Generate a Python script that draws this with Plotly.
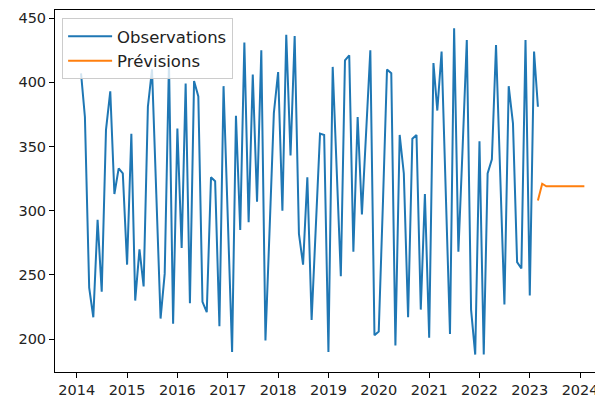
import pandas as pd
import plotly.graph_objects as go

# Observations: monthly, Feb 2014 -> Mar 2023
obs_start = "2014-02-01"
obs_values = [
    407, 373, 240, 217, 293, 237, 363, 393, 313, 333, 329, 258,
    360, 230, 270, 241, 381, 410, 313, 216, 251, 416, 212, 364,
    271, 399, 228, 401, 389, 229, 221, 326, 323, 210, 397, 293,
    190, 374, 285, 431, 291, 406, 307, 425, 199, 288, 376, 408,
    300, 437, 343, 436, 282, 258, 326, 215, 288, 360, 359, 190,
    412, 330, 249, 417, 421, 268, 373, 297, 361, 425, 203, 206,
    308, 410, 407, 195, 359, 329, 217, 356, 359, 223, 313, 201,
    415, 378, 424, 314, 204, 442, 268, 350, 433, 223, 188, 354,
    188, 329, 340, 429, 328, 227, 397, 368, 260, 255, 433, 234,
    424, 381,
]

# Forecast: monthly, Mar 2023 -> Feb 2024
fc_start = "2023-03-01"
fc_values = [308, 321, 319, 319, 319, 319, 319, 319, 319, 319, 319, 319]

year_ticks = [str(y) for y in range(2014, 2025)]
y_ticks = [200, 250, 300, 350, 400, 450]

obs_dates = pd.date_range(obs_start, periods=len(obs_values), freq="MS")
fc_dates = pd.date_range(fc_start, periods=len(fc_values), freq="MS")

fig = go.Figure()
fig.add_trace(go.Scatter(x=obs_dates, y=obs_values, mode="lines", name="Observations",
                         line=dict(color="#1f77b4", width=2)))
fig.add_trace(go.Scatter(x=fc_dates, y=fc_values, mode="lines", name="Prévisions",
                         line=dict(color="#ff7f0e", width=2)))

axis_common = dict(showline=True, linecolor="black", linewidth=1, mirror=True,
                   ticks="outside", ticklen=5, tickcolor="black", tickwidth=1,
                   showgrid=False, zeroline=False,
                   tickfont=dict(family="DejaVu Sans", size=14.5, color="#222222"))

# The page body adds an 8px offset, so the figure is 8px smaller than the window.
fig.update_layout(
    width=595, height=395,
    margin=dict(l=47, r=1, t=2, b=31, autoexpand=False),
    paper_bgcolor="white", plot_bgcolor="white",
    showlegend=True,
    legend=dict(x=0.013, y=0.978, xanchor="left", yanchor="top",
                bgcolor="rgba(255,255,255,0.8)", bordercolor="#cccccc", borderwidth=1,
                font=dict(family="DejaVu Sans", size=16.5, color="#222222"),
                itemwidth=44, tracegroupgap=0),
    xaxis=dict(range=["2013-07-27", "2024-06-08"],
               tickvals=[f"{y}-01-01" for y in year_ticks], ticktext=year_ticks,
               **axis_common),
    yaxis=dict(range=[174.4, 456.3], tickvals=y_ticks,
               ticktext=[str(v) for v in y_ticks], **axis_common),
)

fig.write_html("out.html")
